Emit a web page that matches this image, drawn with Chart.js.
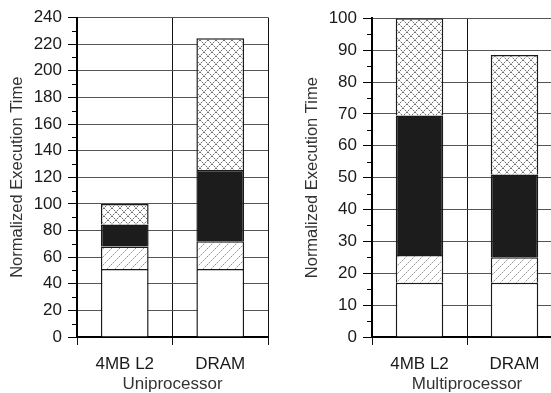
<!DOCTYPE html>
<html>
<head>
<meta charset="utf-8">
<script src="https://cdn.jsdelivr.net/npm/chart.js@4/dist/chart.umd.min.js"></script>
<style>
  html, body { margin: 0; padding: 0; background: #fff; overflow: hidden; width: 551px; height: 393px; }
  .panel { position: absolute; top: 0; }
  #uniWrap { left: 0; }
  #mpWrap { left: 295px; }
</style>
</head>
<body>
<div class="panel" id="uniWrap"><canvas id="uni" width="282" height="393"></canvas></div>
<div class="panel" id="mpWrap"><canvas id="mp" width="282" height="393"></canvas></div>
<script>
// Configurations on the x axis of both panels
const categories = ['4MB L2', 'DRAM'];

// Uniprocessor stacked segments (normalized execution time)
const uniBase   = [51, 51];
const uniHatch  = [17, 21];
const uniBlack  = [16.5, 53.5];
const uniCross  = [15.5, 99];
const uniTicks  = { max: 240, step: 20 };

// Multiprocessor stacked segments
const mpBase    = [17, 17];
const mpHatch   = [8.7, 8];
const mpBlack   = [43.8, 26];
const mpCross   = [30.5, 37.5];
const mpTicks   = { max: 100, step: 10 };

const yTitle = 'Normalized Execution Time';

// diamond lattice with darker dots along the lines
function crossPattern() {
  const c = document.createElement('canvas');
  c.width = 8; c.height = 8;
  const g = c.getContext('2d');
  g.fillStyle = '#ffffff';
  g.fillRect(0, 0, 8, 8);
  for (let i = 0; i < 8; i++) {
    g.fillStyle = (i % 2 === 0) ? '#6e6e6e' : '#c4c4c4';
    g.fillRect(i, i, 1, 1);
    g.fillRect(7 - i, i, 1, 1);
  }
  return g.createPattern(c, 'repeat');
}

// light dotted diagonal hatching
function hatchPattern() {
  const c = document.createElement('canvas');
  c.width = 8; c.height = 8;
  const g = c.getContext('2d');
  g.fillStyle = '#ffffff';
  g.fillRect(0, 0, 8, 8);
  for (let i = 0; i < 8; i++) {
    g.fillStyle = (i % 2 === 0) ? '#9a9a9a' : '#d0d0d0';
    g.fillRect(7 - i, i, 1, 1);
  }
  return g.createPattern(c, 'repeat');
}

// short ticks halfway between the labelled ones
const minorTicks = {
  id: 'minorTicks',
  afterDraw(chart) {
    const y = chart.scales.y;
    const step = chart.options.scales.y.ticks.stepSize;
    const ctx = chart.ctx;
    ctx.save();
    ctx.strokeStyle = '#000';
    ctx.lineWidth = 1;
    ctx.beginPath();
    for (let v = step / 2; v < y.max; v += step) {
      const py = Math.round(y.getPixelForValue(v)) + 0.5;
      ctx.moveTo(y.right - 5, py);
      ctx.lineTo(y.right, py);
    }
    ctx.stroke();
    ctx.restore();
  }
};

const FONT = 'Liberation Sans, Arial, sans-serif';

function makeChart(id, segs, ticks, xTitle, top, right) {
  const cross = crossPattern();
  const hatch = hatchPattern();
  const fills = ['#ffffff', hatch, '#1c1c1c', cross];
  const datasets = segs.map((d, i) => ({
    data: d,
    backgroundColor: fills[i],
    borderColor: '#1a1a1a',
    borderWidth: 1.5,
    barPercentage: 0.5,
    categoryPercentage: 1.0
  }));
  return new Chart(document.getElementById(id), {
    type: 'bar',
    data: { labels: categories, datasets },
    plugins: [minorTicks],
    options: {
      responsive: false,
      animation: false,
      events: [],
      layout: { padding: { top: top, right: right, left: 0, bottom: 0 } },
      plugins: { legend: { display: false }, tooltip: { enabled: false } },
      scales: {
        x: {
          stacked: true,
          afterFit(s) { s.height = 56; },
          grid: { color: '#111', lineWidth: 1, offset: true, drawTicks: true, tickLength: 8, tickColor: '#111' },
          border: { display: true, color: '#000', width: 2 },
          ticks: { color: '#1a1a1a', font: { family: FONT, size: 17 }, padding: 9 },
          title: { display: true, text: xTitle, color: '#333', font: { family: FONT, size: 17 }, padding: { top: 0, bottom: -2 } }
        },
        y: {
          stacked: true,
          min: 0,
          max: ticks.max,
          afterFit(s) { s.width = 77; },
          ticks: { stepSize: ticks.step, color: '#1a1a1a', font: { family: FONT, size: 17 }, padding: 6 },
          grid: { color: '#555', lineWidth: 1, drawTicks: true, tickLength: 9, tickColor: '#000' },
          border: { display: true, color: '#000', width: 2 },
          title: { display: true, text: yTitle, color: '#333', font: { family: FONT, size: 16.5 }, padding: { top: 8, bottom: 0 } }
        }
      }
    }
  });
}

makeChart('uni', [uniBase, uniHatch, uniBlack, uniCross], uniTicks, 'Uniprocessor', 17.5, 14);
makeChart('mp', [mpBase, mpHatch, mpBlack, mpCross], mpTicks, 'Multiprocessor', 18.3, 15);
</script>
</body>
</html>
